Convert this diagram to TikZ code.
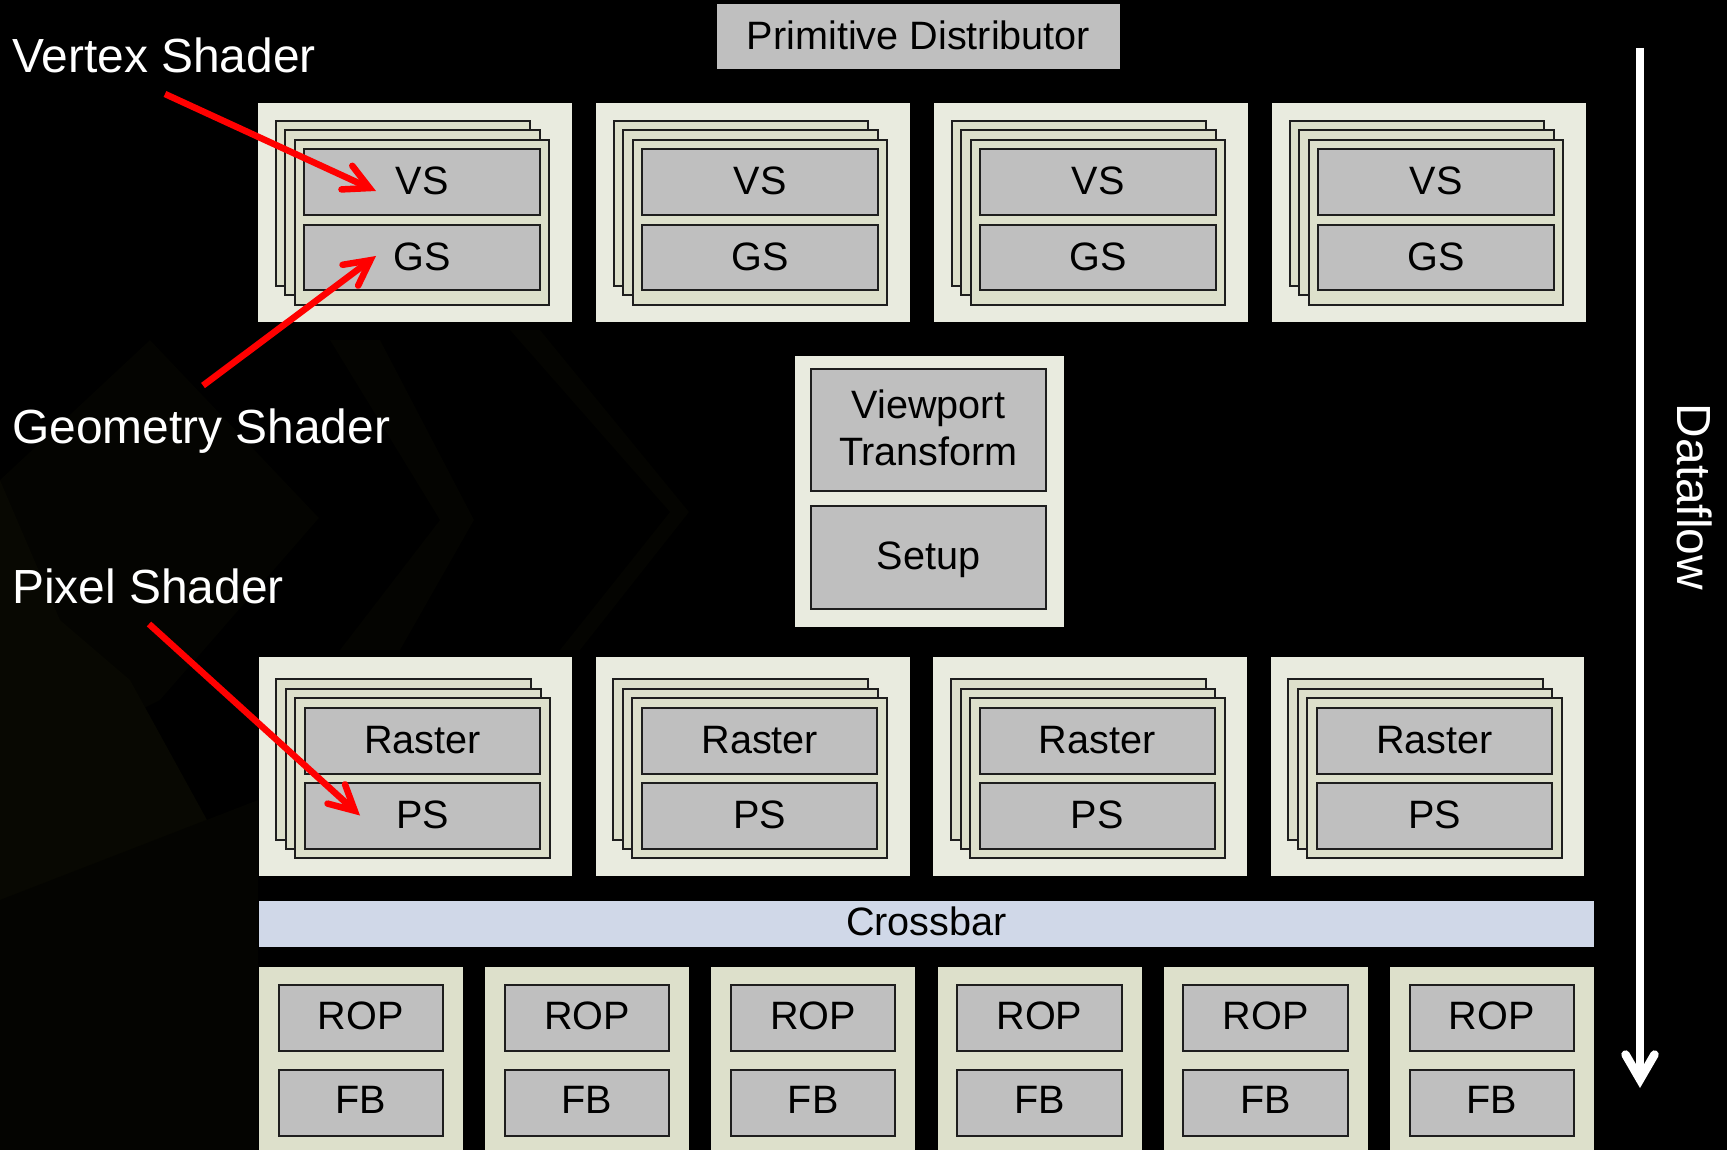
\documentclass[tikz,border=0pt]{standalone}
\usepackage{fontspec}
\setmainfont{Liberation Sans}
\usetikzlibrary{arrows.meta}
\definecolor{outerlight}{HTML}{E9EBDF}
\definecolor{cardfill}{HTML}{DDE0CB}
\definecolor{unitgray}{HTML}{BFBFBF}
\definecolor{barblue}{HTML}{D0D8E8}
\definecolor{edgeink}{HTML}{1E1E1E}
\definecolor{faintA}{HTML}{080802}
\definecolor{faintB}{HTML}{040401}
\tikzset{
  plate/.style={fill=outerlight,draw=none},
  ropplate/.style={fill=cardfill,draw=none},
  card/.style={fill=cardfill,draw=edgeink,line width=2pt},
  unit/.style={fill=unitgray,draw=edgeink,line width=2pt,text=black,font=\fontsize{39.6}{47.4}\selectfont,align=center},
  topbar/.style={fill=unitgray,draw=none,text=black,font=\fontsize{39.6}{47}\selectfont},
  xbar/.style={fill=barblue,draw=none,text=black,font=\fontsize{39.6}{47}\selectfont},
  callout/.style={text=white,anchor=base west,inner sep=0pt,font=\fontsize{47.9}{52}\selectfont},
  redarrow/.style={draw=red,line width=6.5pt,-{Straight Barb[length=25pt,width=26pt,line width=6.5pt,line cap=round,line join=miter]}},
  flowarrow/.style={draw=white,line width=8pt,-{Straight Barb[length=25pt,width=29pt,line width=8.5pt,line cap=round,line join=miter]}}
}
\newcommand{\bx}[7]{\node[#1,inner sep=0pt,outer sep=0pt,minimum width={((#5)-(#3))*1pt},minimum height={((#6)-(#4))*1pt}] (#2) at ({((#3)+(#5))/2},{((#4)+(#6))/2}) {#7};}
\newcommand{\ut}[2][1.1pt]{\raisebox{#1}[\height][\depth]{#2}}
\begin{document}
\begin{tikzpicture}[x=1pt,y=-1pt]
\useasboundingbox (0,0) rectangle (1727,1150);
\fill[black] (0,0) rectangle (1727,1150);
% faint background chevrons
\fill[faintB] (0,480) -- (150,340) -- (319,518) -- (160,700) -- (0,780) -- cycle;
\fill[faintB] (380,340) -- (474,520) -- (400,650) -- (340,650) -- (440,520) -- (330,340) -- cycle;
\fill[faintB] (540,330) -- (689,512) -- (580,650) -- (560,650) -- (670,512) -- (510,330) -- cycle;
\fill[faintA] (0,480) -- (60,620) -- (130,680) -- (240,880) -- (0,1150) -- cycle;
\fill[faintB] (0,900) -- (258,800) -- (258,1150) -- (0,1150) -- cycle;
% top
\bx{topbar}{prim}{717}{4.5}{1120}{69}{\ut{Primitive Distributor}}
% vertex row
\foreach \i/\o in {1/0,2/338,3/676,4/1014}{
  \bx{plate}{top\i}{258+\o}{103}{572+\o}{322}{}
  \bx{card}{topa\i}{276+\o}{121}{530+\o}{286}{}
  \bx{card}{topb\i}{285+\o}{130.5}{540+\o}{295.5}{}
  \bx{card}{topc\i}{294.5+\o}{140}{549+\o}{305}{}
  \bx{unit}{vs\i}{304+\o}{149.5}{540+\o}{215}{\ut{VS}}
  \bx{unit}{gs\i}{304+\o}{225}{540+\o}{290.5}{\ut{GS}}
}
% centre
\bx{plate}{mid}{795}{356}{1064}{627}{}
\bx{unit}{vp}{811}{369}{1046}{491}{\ut[2.2pt]{Viewport}\\\ut[2.2pt]{Transform}}
\bx{unit}{setup}{811}{505.5}{1046}{609}{\ut[-2.2pt]{Setup}}
% raster row
\foreach \i/\o in {1/0,2/337.3,3/674.6,4/1011.9}{
  \bx{plate}{low\i}{258.7+\o}{657}{572.4+\o}{876}{}
  \bx{card}{lowa\i}{276+\o}{679}{531+\o}{839.5}{}
  \bx{card}{lowb\i}{286+\o}{688.5}{540.5+\o}{848.5}{}
  \bx{card}{lowc\i}{295+\o}{698}{550+\o}{858}{}
  \bx{unit}{ras\i}{305+\o}{708}{540+\o}{774}{\ut{Raster}}
  \bx{unit}{ps\i}{305+\o}{783}{540+\o}{849}{\ut{PS}}
}
% crossbar
\bx{xbar}{cross}{259}{901}{1594}{947}{\ut[2.2pt]{Crossbar}}
% ROP row
\foreach \i/\o in {1/0,2/226.2,3/452.4,4/678.6,5/904.8,6/1131}{
  \bx{ropplate}{rp\i}{259+\o}{967}{463+\o}{1150}{}
  \bx{unit}{rop\i}{278.5+\o}{985}{443+\o}{1051}{\ut[2.2pt]{ROP}}
  \bx{unit}{fb\i}{278.5+\o}{1069.5}{443+\o}{1135.5}{\ut[2.2pt]{FB}}
}
% callouts
\node[callout] (lv) at (12,73) {Vertex Shader};
\node[callout] (lg) at (12,443) {Geometry Shader};
\node[callout] (lp) at (12,603) {Pixel Shader};
\node[text=white,rotate=-90,inner sep=0pt,font=\fontsize{47.9}{52}\selectfont] (lflow) at (1694.5,497) {Dataflow};
% connector ends
\coordinate (a1s) at (165,94);   \coordinate (a1e) at (376,191);
\coordinate (a2s) at (203,385.5);\coordinate (a2e) at (376,256);
\coordinate (a3s) at (149,624);  \coordinate (a3e) at (360,815.5);
\coordinate (fs) at (1640,48);   \coordinate (fe) at (1640,1088);
\draw[redarrow] (a1s) -- (a1e);
\draw[redarrow] (a2s) -- (a2e);
\draw[redarrow] (a3s) -- (a3e);
\draw[flowarrow] (fs) -- (fe);
\end{tikzpicture}
\end{document}
